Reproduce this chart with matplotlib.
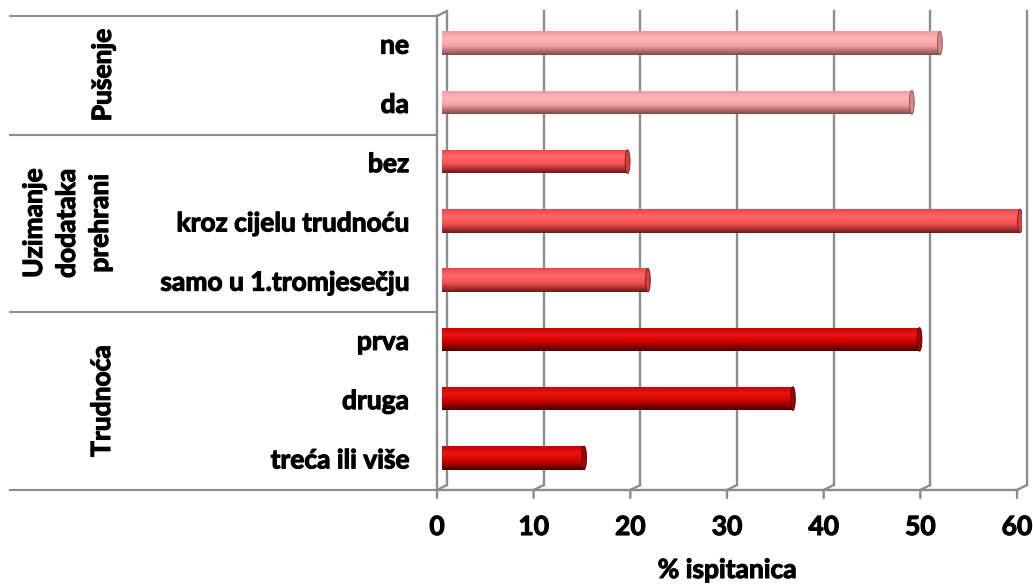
import numpy as np
import matplotlib
matplotlib.use('Agg')
import matplotlib.pyplot as plt
import matplotlib.transforms as mtransforms
import matplotlib.patheffects as pe
from matplotlib.colors import LinearSegmentedColormap
from matplotlib.patches import Ellipse, ConnectionPatch

# podaci
kategorije = ['ne', 'da', 'bez', 'kroz cijelu trudnoću', 'samo u 1.tromjesečju',
              'prva', 'druga', 'treća ili više']
postotci = [51.5, 48.6, 19.2, 59.8, 21.3, 49.4, 36.3, 14.7]
grupe = ['Pušenje', 'Uzimanje\ndodataka\nprehrani', 'Trudnoća']
velicine_grupa = [2, 3, 3]
x_ticks = [0, 10, 20, 30, 40, 50, 60]
x_naslov = '% ispitanica'

# boje po grupi: (gornji rub, odsjaj, osnovna, donja sjena)
boje_grupa = [
    ['#EE9A9A', '#FFB8B8', '#F4A2A2', '#7E4A4A'],
    ['#E84646', '#FF6868', '#F25252', '#6E1818'],
    ['#C40000', '#EC1414', '#CC0000', '#4E0000'],
]
kraj_boje = ['#D98888', '#D84040', '#A80000']

plt.rcParams['font.family'] = ['Lato', 'DejaVu Sans']
FS = 19
deblje = [pe.withStroke(linewidth=0.8, foreground='black')]
txt = dict(fontsize=FS, fontweight='bold', path_effects=deblje)

fig = plt.figure(figsize=(10.33, 5.86), dpi=100)
ax = fig.add_axes([442 / 1033, 1 - 487.5 / 586, 580 / 1033, 474 / 586])
ax.set_axis_off()

siva = '#8C8C8C'
front = mtransforms.ScaledTranslation(-0.05, -0.025, fig.dpi_scale_trans)
back = mtransforms.ScaledTranslation(0.05, 0.025, fig.dpi_scale_trans)
xax = ax.get_xaxis_transform()
yax = ax.get_yaxis_transform()

# zadnji zid: mreza
for t in x_ticks:
    ax.plot([t, t], [0, 1], transform=xax + back, color=siva, lw=1.7, clip_on=False, zorder=1)
    ax.add_artist(ConnectionPatch(xyA=(t, 0), coordsA=xax + back, xyB=(t, 0), coordsB=xax + front,
                                  color=siva, lw=1.7, zorder=1))
    ax.add_artist(ConnectionPatch(xyA=(t, 0), coordsA=xax + front, xyB=(t, 0),
                                  coordsB=xax + front + mtransforms.ScaledTranslation(0, -0.08, fig.dpi_scale_trans),
                                  color=siva, lw=1.7, zorder=1))
    ax.text(t, 0, str(t), transform=xax + front + mtransforms.ScaledTranslation(0, -0.37, fig.dpi_scale_trans),
            ha='center', va='center', **txt)

ax.text(30, 0, x_naslov, transform=xax + front + mtransforms.ScaledTranslation(0, -0.80, fig.dpi_scale_trans),
        ha='center', va='center', **txt)

n = len(kategorije)
ax.set_xlim(0, 60)
ax.set_ylim(n - 0.5, -0.5)

# prednje osi
ax.plot([0, 60], [0, 0], transform=xax + front, color=siva, lw=1.7, clip_on=False, zorder=1)
ax.plot([0, 0], [-0.5, n - 0.5], transform=ax.transData + front, color=siva, lw=1.7, clip_on=False, zorder=1)
ax.add_artist(ConnectionPatch(xyA=(0, -0.5), coordsA=ax.transData + front, xyB=(0, -0.5),
                              coordsB=ax.transData + back, color=siva, lw=1.7, zorder=1))

# granice grupa
granice = np.concatenate([[0], np.cumsum(velicine_grupa)]) - 0.5
for g in granice:
    ax.plot([-0.736, 0], [g, g], transform=yax + front, color=siva, lw=1.5, clip_on=False, zorder=1)

# stupci s gradijentom
y = np.arange(n)
h = 0.4
boje_stupaca = []
for gi, vel in enumerate(velicine_grupa):
    boje_stupaca += [gi] * vel

for i, (v, gi) in enumerate(zip(postotci, boje_stupaca)):
    c = boje_grupa[gi]
    cmap = LinearSegmentedColormap.from_list('b%d' % i, list(zip([0, 0.3, 0.62, 1.0], c)))
    bar = ax.barh(y[i], v, height=h, color=c[2], zorder=3)[0]
    grad = cmap(np.linspace(0, 1, 64))[:, None, :]
    im = ax.imshow(grad, extent=(0, v, y[i] + h / 2, y[i] - h / 2), origin='upper',
                   aspect='auto', interpolation='bicubic', zorder=4)
    im.set_clip_path(bar)
    ax.add_patch(Ellipse((v, y[i]), width=0.5, height=h, facecolor=kraj_boje[gi],
                         edgecolor=c[3], lw=0.6, zorder=5))

ax.set_xlim(0, 60)
ax.set_ylim(n - 0.5, -0.5)

# oznake kategorija
for i, k in enumerate(kategorije):
    ax.text(-0.0483, y[i], k, transform=yax + front, ha='right', va='center', **txt)

# nazivi grupa
grupa_x = [-0.576, -0.638, -0.5776]
for gi, naziv in enumerate(grupe):
    sredina = (granice[gi] + granice[gi + 1]) / 2
    ax.text(grupa_x[gi], sredina, naziv, transform=yax + front, rotation=90,
            ha='center', va='center', linespacing=1.45, **txt)

plt.savefig('out.png', dpi=100)
